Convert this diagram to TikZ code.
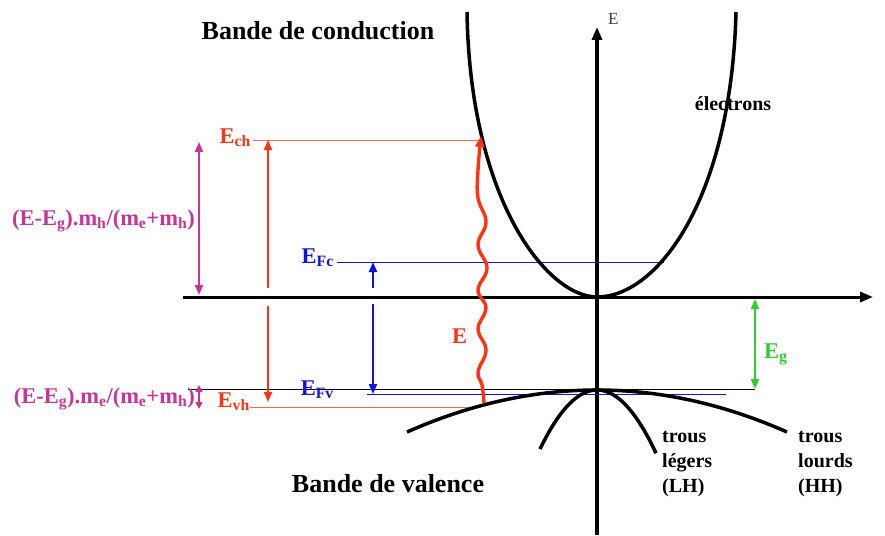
\documentclass[tikz,border=0pt]{standalone}
\usepackage{fontspec}
\setmainfont{Liberation Serif}
\usetikzlibrary{arrows.meta}
\definecolor{HotRed}{HTML}{FF3311}
\definecolor{PlumPink}{HTML}{CC3399}
\definecolor{FermiBlue}{HTML}{1212E8}
\definecolor{GapGreen}{HTML}{33CC33}
\definecolor{AxisBrown}{HTML}{4A3A30}

\tikzset{
  band/.style={line width=3.5pt},
  axisline/.style={line width=3pt,-{Triangle[length=13pt,width=10pt]}},
  levelline/.style={line width=0.9pt},
  jump/.style={line width=2pt,-{Triangle[length=10pt,width=8pt]}},
  bothjump/.style={line width=2pt,{Triangle[length=10pt,width=8pt]}-{Triangle[length=10pt,width=8pt]}},
  lbl/.style={font=\bfseries\fontsize{22.5}{24}\selectfont,inner sep=0pt},
  title/.style={font=\bfseries\fontsize{26}{28}\selectfont,inner sep=0pt},
  note/.style={font=\bfseries\fontsize{20}{25}\selectfont,inner sep=0pt,align=left}
}

\begin{document}
\begin{tikzpicture}[x=1pt,y=-1pt]
\useasboundingbox (0,0) rectangle (885,535);

% reference points
\coordinate (kleft) at (183,297);
\coordinate (kright) at (873,297);
\coordinate (Ebot) at (597,535);
\coordinate (Etop) at (597,27);
\coordinate (Gamma) at (597,297);

% axes
\draw[axisline] (kleft) -- (kright);
\draw[axisline,line width=3.8pt] (Ebot) -- (Etop);
\node[font=\fontsize{17}{17}\selectfont,text=AxisBrown,anchor=base west,inner sep=0pt] (Eaxis) at (608,25) {E};

% levels
\draw[levelline] (188,389) coordinate (vtopL) -- (755,389) coordinate (vtopR);
\draw[levelline,HotRed!75] (253,140) coordinate (chL) -- (481,140) coordinate (chR);
\draw[levelline,HotRed!75] (250,407) coordinate (vhL) -- (468,407) coordinate (vhR);
\draw[levelline,FermiBlue] (337,262) coordinate (fcL) -- (664,262) coordinate (fcR);
\draw[levelline,FermiBlue] (367,394) coordinate (fvL) -- (726,394) coordinate (fvR);

% bands
\draw[band] (467,12) .. controls (470,200) and (547,297) .. (Gamma)
  .. controls (657,297) and (731,200) .. (736,12);
\draw[band] plot[domain=-190:190,samples=50] ({597+\x},{390+42*(\x/190)^2});
\draw[band] plot[domain=-57:59,samples=40] ({597+\x},{390+59*(\x/57)^2});

% level labels
\node[lbl,text=HotRed,anchor=base east] (Ech) at (251,143) {E\textsubscript{ch}};
\node[lbl,text=HotRed,anchor=base east] (Evh) at (250,407) {E\textsubscript{vh}};
\node[lbl,text=FermiBlue,anchor=base east] (EFc) at (334,263) {E\textsubscript{Fc}};
\node[lbl,text=FermiBlue,anchor=base east] (EFv) at (334,395) {E\textsubscript{Fv}};
\node[lbl,text=GapGreen,anchor=base west] (Eg) at (764,358) {E\textsubscript{g}};
\node[lbl,text=HotRed,anchor=base west] (Ephot) at (452,343) {E};
\node[lbl,text=PlumPink,anchor=base east] (shareh) at (195,225) {(E-E\textsubscript{g}).m\textsubscript{h}/(m\textsubscript{e}+m\textsubscript{h})};
\node[lbl,text=PlumPink,anchor=base east] (sharee) at (195,403) {(E-E\textsubscript{g}).m\textsubscript{e}/(m\textsubscript{e}+m\textsubscript{h})};

% arrows between levels
\draw[jump,HotRed] (268,288) -- (chL -| 268,0);
\draw[jump,HotRed] (268,306) -- (268,402);
\draw[bothjump,PlumPink] (199,142) -- (199,295);
\draw[bothjump,PlumPink,line width=1.6pt,{Triangle[length=7pt,width=7pt]}-{Triangle[length=7pt,width=7pt]}] (199,385) -- (199,409);
\draw[jump,FermiBlue] (373,288) -- (373,262);
\draw[jump,FermiBlue] (373,304) -- (373,394);
\draw[bothjump,GapGreen,line width=2.6pt] (755,299) -- (vtopR);

% photon energy
\draw[HotRed,line width=3.4pt,-{Triangle[length=11pt,width=9pt]}] plot[smooth,tension=0.7] coordinates {(484,403) (482,385) (478,372) (486,350) (478,329) (486,308) (478,290) (487,268) (478,245) (486,222) (478,198) (478,170) (481,136)};

% band names
\node[title,anchor=base] (cond) at (318,40) {Bande de conduction};
\node[title,anchor=base] (val) at (388,492) {Bande de valence};
\node[note,anchor=base] (elec) at (733,110) {électrons};
\node[note,anchor=base west] (lh) at (662,492) {trous\\légers\\(LH)};
\node[note,anchor=base west] (hh) at (798,492) {trous\\lourds\\(HH)};
\end{tikzpicture}
\end{document}
